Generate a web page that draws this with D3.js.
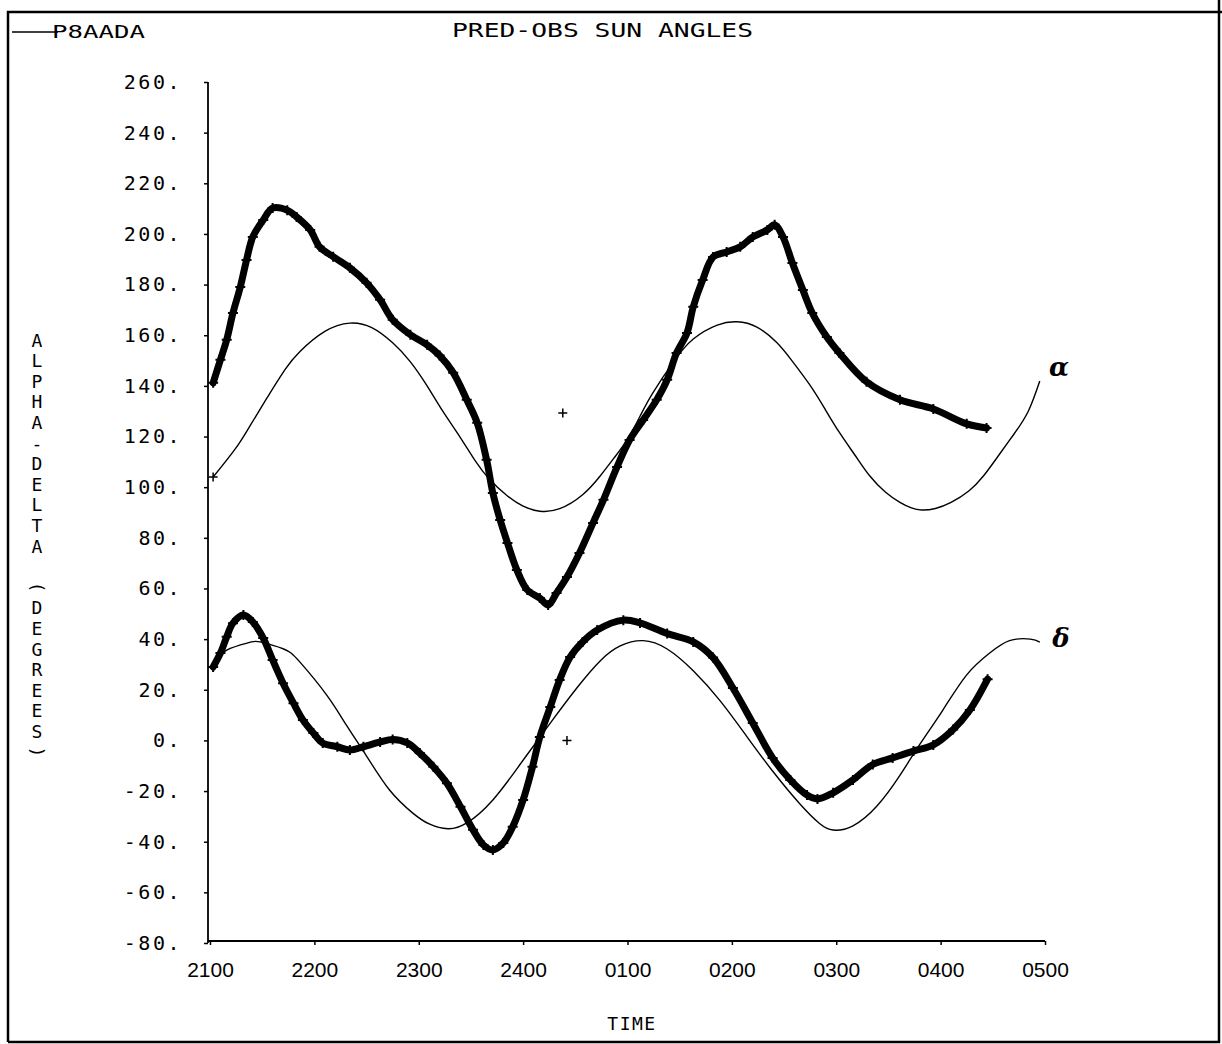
<!DOCTYPE html>
<html><head><meta charset="utf-8">
<script src="https://cdn.jsdelivr.net/npm/d3@7"></script>
<style>body{margin:0;background:#fff}svg{display:block}</style>
</head><body>
<svg id="c" width="1222" height="1044"></svg>
<script>
// ---- data (time = hours after 2100) ----
const timeTicks = [0,1,2,3,4,5,6,7,8];
const timeLabels = ["2100","2200","2300","2400","0100","0200","0300","0400","0500"];
const yTicks = [-80,-60,-40,-20,0,20,40,60,80,100,120,140,160,180,200,220,240,260];

const predAlphaT = [0.03,0.24,0.38,0.55,0.72,0.86,1.10,1.34,1.55,1.75,1.92,2.08,2.23,2.40,2.54,2.68,2.85,3.00,3.16,3.35,3.57,3.74,3.88,4.00,4.12,4.24,4.44,4.63,4.86,5.05,5.24,5.43,5.58,5.75,5.89,6.03,6.18,6.32,6.47,6.61,6.72,6.82,6.95,7.10,7.27,7.41,7.55,7.70,7.84,7.95];
const predAlphaV = [104,115,124,135.5,146.5,153.5,161.5,164.8,163,157,149.5,140,130,119.5,110.5,103,96.5,92.5,90.5,91.5,97,104.5,112,119,128,137,149.5,158.5,164,165.3,163.2,157.1,149.7,140.2,131,121.6,112.6,104.5,98.1,94,91.8,91,91.6,94,98.5,104.4,112.2,120.8,130,141.9];

const predDeltaT = [0.03,0.16,0.38,0.48,0.70,0.86,1.12,1.31,1.50,1.72,1.94,2.10,2.28,2.46,2.71,2.97,3.13,3.29,3.52,3.74,3.93,4.15,4.38,4.63,4.89,5.14,5.39,5.65,5.84,5.97,6.16,6.39,6.61,6.80,7.02,7.25,7.47,7.66,7.86,7.95];
const predDeltaV = [30.4,35.7,38.7,38.9,36.2,31,17.8,5.8,-6.2,-19.6,-28.6,-33,-34.9,-32.6,-23.5,-9.5,-0.5,8.5,21,31.5,37.3,39.4,36.1,27.5,15.5,1.7,-12.1,-25,-32.8,-35.4,-33.7,-25.9,-13.8,-1.6,11.9,25.9,34.5,39.4,40,38.8];

const obsAlphaT = [0.03,0.10,0.16,0.22,0.29,0.35,0.41,0.51,0.60,0.74,0.83,0.96,1.05,1.18,1.34,1.50,1.63,1.75,1.92,2.08,2.20,2.33,2.46,2.56,2.65,2.71,2.78,2.85,2.94,3.04,3.16,3.24,3.32,3.42,3.54,3.67,3.77,3.90,4.02,4.15,4.28,4.38,4.47,4.57,4.63,4.72,4.82,4.95,5.08,5.20,5.34,5.41,5.49,5.58,5.68,5.77,5.91,6.03,6.29,6.61,6.93,7.25,7.44];
const obsAlphaV = [141.2,150.3,158.2,168.8,179,189.7,198.8,205.5,210.2,209.4,206.7,201.6,194.9,191,186.6,180.7,174,166.1,160.2,156.2,152,145.2,134.5,125.4,110.8,97.7,87,78,67.3,59.4,56.2,53.5,58.2,64.5,74,85.9,95,108,118.6,126.5,134.5,142.4,153,160.9,171.2,181.8,190.9,192.9,194.9,198.8,201.6,203.6,198.8,188.5,177.9,168.8,159.3,153,141.6,134.5,130.9,125,123.4];

const obsDeltaT = [0.03,0.10,0.16,0.22,0.32,0.41,0.51,0.60,0.70,0.80,0.89,0.99,1.08,1.22,1.34,1.47,1.63,1.75,1.89,2.01,2.14,2.27,2.40,2.52,2.62,2.71,2.81,2.90,3.00,3.09,3.16,3.26,3.35,3.45,3.57,3.71,3.96,4.12,4.38,4.63,4.82,5.01,5.20,5.39,5.56,5.72,5.82,5.97,6.16,6.35,6.54,6.74,6.93,7.12,7.28,7.45];
const obsDeltaV = [29,34.5,40.9,46.3,49.5,46.8,40.4,31.8,22.6,14.7,8.1,2.9,-1,-2.5,-3.8,-2.5,-0.6,0.4,-1,-5,-10.4,-16.9,-26.2,-35.3,-41.3,-43.3,-40.5,-34.1,-23.5,-10.4,1.3,13.2,23.9,32.9,38.9,43.6,47.5,46.4,42.2,38.9,32.7,20.7,6.9,-6.9,-15.6,-21.6,-23.1,-20.7,-15.6,-9.5,-6.9,-4.2,-1.8,4.3,12,24.2];

const strayT = [3.38, 3.42];
const strayV = [129.3, 0];

const titleText = "PRED-OBS SUN ANGLES";
const idText = "P8AADA";
const xTitle = "TIME";
const yTitle = "ALPHA-DELTA (DEGREES)";

// ---- drawing ----
const svg = d3.select("#c");
const plotFont = "'DejaVu Sans Mono', monospace";
const x = d3.scaleLinear().domain([0, 8]).range([210, 1045]);
const y = d3.scaleLinear().domain([-80, 260]).range([943, 82]);

// frame
svg.append("path")
  .attr("d", "M8,1042V12H1222 M1219,0V1042H8")
  .attr("fill", "none").attr("stroke", "#000").attr("stroke-width", 2.5);

// id label with strike
svg.append("text").attr("x", 52).attr("y", 38).text(idText)
  .attr("font-family", plotFont).attr("font-size", 18)
  .attr("textLength", 93).attr("lengthAdjust", "spacingAndGlyphs");
svg.append("line").attr("x1", 12).attr("x2", 58).attr("y1", 32).attr("y2", 32)
  .attr("stroke", "#000").attr("stroke-width", 1.6);

// title
svg.append("text").attr("x", 452).attr("y", 37).text(titleText)
  .attr("font-family", plotFont).attr("font-size", 19)
  .attr("textLength", 301).attr("lengthAdjust", "spacingAndGlyphs");

// y axis
const yAxis = svg.append("g").attr("transform", "translate(208,0)")
  .call(d3.axisLeft(y).tickValues(yTicks).tickSize(4).tickPadding(22)
    .tickFormat(d => d + "."));
yAxis.select(".domain").attr("d", `M0,${y(260)}V${y(-80)}`).attr("stroke-width", 1.8);
yAxis.selectAll(".tick line").attr("stroke-width", 1.5);
yAxis.selectAll(".tick text").attr("font-family", plotFont).attr("font-size", 20)
  .attr("letter-spacing", 2.5).attr("fill", "#000");

// x axis
const xAxis = svg.append("g").attr("transform", "translate(0,941)")
  .call(d3.axisBottom(x).tickValues(timeTicks).tickSize(4).tickPadding(17)
    .tickFormat((d, i) => timeLabels[i]));
xAxis.select(".domain").attr("d", `M${x(0)-2},0H${x(8)}`).attr("stroke-width", 1.8);
xAxis.selectAll(".tick line").attr("stroke-width", 1.5);
xAxis.selectAll(".tick text").attr("font-family", "'Liberation Sans', Arial, sans-serif")
  .attr("font-size", 21).attr("fill", "#000");

// axis titles
svg.append("text").attr("x", 632).attr("y", 1030).attr("text-anchor", "middle")
  .text(xTitle).attr("font-family", plotFont).attr("font-size", 18).attr("letter-spacing", 1.5);

yTitle.split("").forEach((ch, i) => {
  const cy = 340 + i * 20.6;
  if (ch === " ") return;
  const g = svg.append("text").attr("font-family", plotFont).attr("font-size", 18)
    .attr("text-anchor", "middle").text(ch);
  if (ch === "(" || ch === ")") {
    g.attr("transform", `translate(37,${cy}) rotate(90)`).attr("dy", "0.35em");
  } else {
    g.attr("x", 37).attr("y", cy + 6.5);
  }
});

// series
function pts(T, V) { return T.map((t, i) => [t, V[i]]); }
const smooth = d3.line().x(d => x(d[0])).y(d => y(d[1])).curve(d3.curveNatural);
const line = d3.line().x(d => x(d[0])).y(d => y(d[1])).curve(d3.curveCatmullRom.alpha(0.5));

[pts(predAlphaT, predAlphaV), pts(predDeltaT, predDeltaV)].forEach(data => {
  svg.append("path").datum(data).attr("d", smooth)
    .attr("fill", "none").attr("stroke", "#000").attr("stroke-width", 1.4);
});
// start mark of predicted alpha curve
svg.append("g").selectAll("path")
  .data([[predAlphaT[0], predAlphaV[0]]]).join("path")
  .attr("transform", d => `translate(${x(d[0])},${y(d[1])})`)
  .attr("d", "M-4.5,0H4.5M0,-4.5V4.5").attr("stroke", "#000").attr("stroke-width", 1.5);

const plus = "M-5,0H5M0,-5V5";
[pts(obsAlphaT, obsAlphaV), pts(obsDeltaT, obsDeltaV)].forEach(data => {
  svg.append("path").datum(data).attr("d", line)
    .attr("fill", "none").attr("stroke", "#000").attr("stroke-width", 7)
    .attr("stroke-linejoin", "round").attr("stroke-linecap", "round");
  svg.append("g").selectAll("path").data(data).join("path")
    .attr("transform", d => `translate(${x(d[0])},${y(d[1])})`)
    .attr("d", plus).attr("stroke", "#000").attr("stroke-width", 2);
});

svg.append("g").selectAll("path").data(pts(strayT, strayV)).join("path")
  .attr("transform", d => `translate(${x(d[0])},${y(d[1])})`)
  .attr("d", "M-4.5,0H4.5M0,-4.5V4.5").attr("stroke", "#000").attr("stroke-width", 1.5);

// curve annotations
svg.append("text").attr("x", 1059).attr("y", 376).attr("text-anchor", "middle")
  .text("α").attr("font-family", "'DejaVu Serif', serif").attr("font-style", "italic")
  .attr("font-weight", "bold").attr("font-size", 26);
svg.append("text").attr("x", 1061).attr("y", 647).attr("text-anchor", "middle")
  .text("δ").attr("font-family", "'DejaVu Serif', serif").attr("font-style", "italic")
  .attr("font-weight", "bold").attr("font-size", 26);
</script>
</body></html>
